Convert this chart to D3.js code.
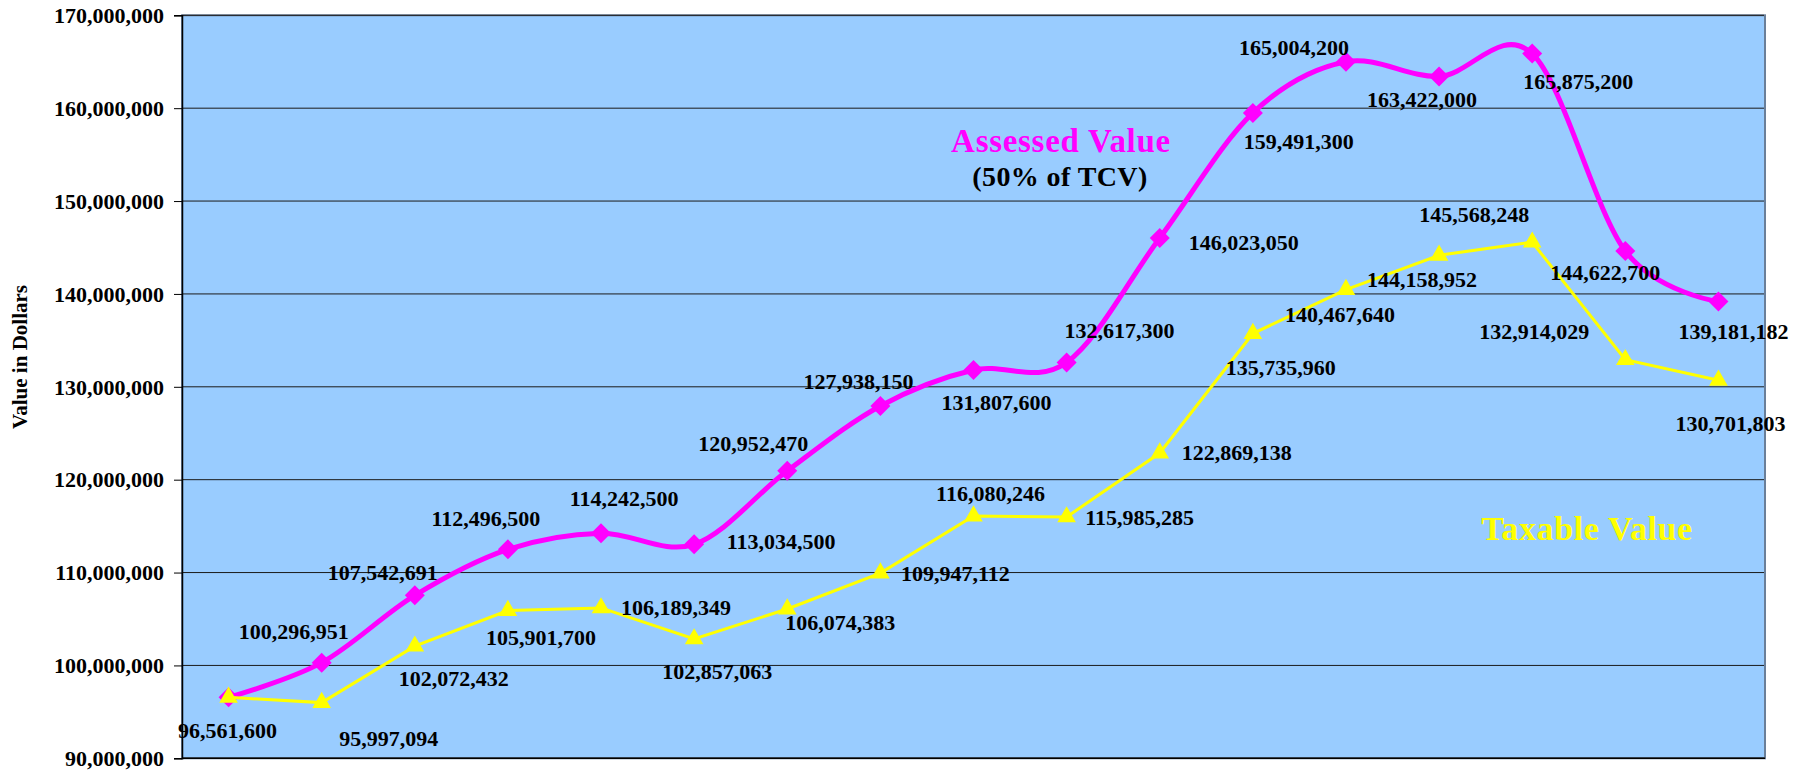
<!DOCTYPE html>
<html>
<head>
<meta charset="utf-8">
<script src="https://cdn.jsdelivr.net/npm/d3@7"></script>
<style>
    body { margin: 0; background: #ffffff; }
    text { font-family: "Liberation Serif", "Times New Roman", serif; font-weight: bold; }
</style>
</head>
<body>
<svg id="chart"></svg>
<script>
// data
const assessedValues = [
    96561600, 100296951, 107542691, 112496500, 114242500, 113034500,
    120952470, 127938150, 131807600, 132617300, 146023050, 159491300,
    165004200, 163422000, 165875200, 144622700, 139181182,
];
const taxableValues = [
    96561600, 95997094, 102072432, 105901700, 106189349, 102857063,
    106074383, 109947112, 116080246, 115985285, 122869138, 135735960,
    140467640, 144158952, 145568248, 132914029, 130701803,
];
const yTicks = [90000000, 100000000, 110000000, 120000000, 130000000,
    140000000, 150000000, 160000000, 170000000];

// label placement (dx, dy from the point), null = no label
const assessedLabelOffsets = [
    [-1, 33], [-28, -31], [-32, -23], [-22, -31], [23, -34], [87, -3],
    [-34, -27], [-22, -24], [23, 33], [53, -32], [84, 5], [46, 29],
    [-52, -14], [-17, 23], [46, 28], [-20, 22], [15, 30],
];
const taxableLabelOffsets = [
    null, [67, 36], [39, 33], [33, 27], [75, 0], [23, 33],
    [53, 14], [75, 1], [17, -22], [73, 1], [77, 0], [28, 34],
    [-6, 25], [-17, 24], [-58, -27], [-91, -28], [12, 43],
];

const width = 1804;
const height = 770;
const plot = { left: 182, right: 1765, top: 15.3, bottom: 758.3 };

const svg = d3.select("#chart").attr("width", width).attr("height", height);

const x = d3.scalePoint()
    .domain(d3.range(assessedValues.length))
    .range([plot.left, plot.right])
    .padding(0.5);

const y = d3.scaleLinear()
    .domain([90000000, 170000000])
    .range([plot.bottom, plot.top]);

// plot area
svg.append("rect")
    .attr("x", plot.left)
    .attr("y", plot.top)
    .attr("width", plot.right - plot.left)
    .attr("height", plot.bottom - plot.top)
    .attr("fill", "#99ccff")
    .attr("stroke", "#6a7f99")
    .attr("stroke-width", 2);

// gridlines
svg.append("g")
    .selectAll("line")
    .data(yTicks)
    .join("line")
    .attr("x1", plot.left)
    .attr("x2", plot.right - 1)
    .attr("y1", (d) => y(d))
    .attr("y2", (d) => y(d))
    .attr("stroke", "#1a1a1a")
    .attr("stroke-width", 1);

// y axis
const yAxis = svg.append("g")
    .attr("transform", `translate(${plot.left},0)`)
    .call(d3.axisLeft(y).tickValues(yTicks).tickSize(8).tickPadding(10)
        .tickFormat(d3.format(",")));
yAxis.select(".domain").attr("stroke", "#000").attr("stroke-width", 1.5);
yAxis.selectAll(".tick line").attr("stroke", "#000");
yAxis.selectAll(".tick text")
    .attr("fill", "#000")
    .attr("dy", "0.33em")
    .style("font-size", "22px")
    .style("font-family", "'Liberation Serif', serif")
    .style("font-weight", "bold");

// x axis line
svg.append("line")
    .attr("x1", plot.left)
    .attr("x2", plot.right)
    .attr("y1", plot.bottom)
    .attr("y2", plot.bottom)
    .attr("stroke", "#000")
    .attr("stroke-width", 1.5);

// axis title
svg.append("text")
    .attr("transform", "translate(27,357) rotate(-90)")
    .attr("text-anchor", "middle")
    .style("font-size", "21px")
    .text("Value in Dollars");

// assessed line (smoothed)
const assessedLine = d3.line()
    .x((d, i) => x(i))
    .y((d) => y(d))
    .curve(d3.curveCardinal.tension(0));

svg.append("path")
    .datum(assessedValues)
    .attr("d", assessedLine)
    .attr("fill", "none")
    .attr("stroke", "#ff00ff")
    .attr("stroke-width", 5)
    .attr("stroke-linejoin", "round");

svg.append("g")
    .selectAll("path")
    .data(assessedValues)
    .join("path")
    .attr("d", d3.symbol(d3.symbolSquare, 200))
    .attr("transform", (d, i) => `translate(${x(i)},${y(d)}) rotate(45)`)
    .attr("fill", "#ff00ff");

// taxable line
const taxableLine = d3.line()
    .x((d, i) => x(i))
    .y((d) => y(d));

svg.append("path")
    .datum(taxableValues)
    .attr("d", taxableLine)
    .attr("fill", "none")
    .attr("stroke", "#ffff00")
    .attr("stroke-width", 3);

svg.append("g")
    .selectAll("path")
    .data(taxableValues)
    .join("path")
    .attr("d", d3.symbol(d3.symbolTriangle, 150))
    .attr("transform", (d, i) => `translate(${x(i)},${y(d)})`)
    .attr("fill", "#ffff00");

// data labels
const fmt = d3.format(",");

function drawLabels(values, offsets) {
    svg.append("g")
        .selectAll("text")
        .data(values.map((v, i) => ({ v, i, off: offsets[i] })).filter((d) => d.off))
        .join("text")
        .attr("x", (d) => x(d.i) + d.off[0])
        .attr("y", (d) => y(d.v) + d.off[1])
        .attr("dy", "0.33em")
        .attr("text-anchor", "middle")
        .attr("fill", "#000")
        .style("font-size", "22px")
        .text((d) => fmt(d.v));
}

drawLabels(assessedValues, assessedLabelOffsets);
drawLabels(taxableValues, taxableLabelOffsets);

// series annotations
svg.append("text")
    .attr("x", 1061)
    .attr("y", 152)
    .attr("text-anchor", "middle")
    .attr("fill", "#ff00ff")
    .style("font-size", "33px")
    .style("letter-spacing", "0.7px")
    .text("Assessed Value");

svg.append("text")
    .attr("x", 1060)
    .attr("y", 186)
    .attr("text-anchor", "middle")
    .attr("fill", "#000")
    .style("font-size", "28px")
    .style("letter-spacing", "0.4px")
    .text("(50% of TCV)");

svg.append("text")
    .attr("x", 1587)
    .attr("y", 540)
    .attr("text-anchor", "middle")
    .attr("fill", "#ffff00")
    .style("font-size", "34px")
    .style("letter-spacing", "0.6px")
    .text("Taxable Value");
</script>
</body>
</html>
